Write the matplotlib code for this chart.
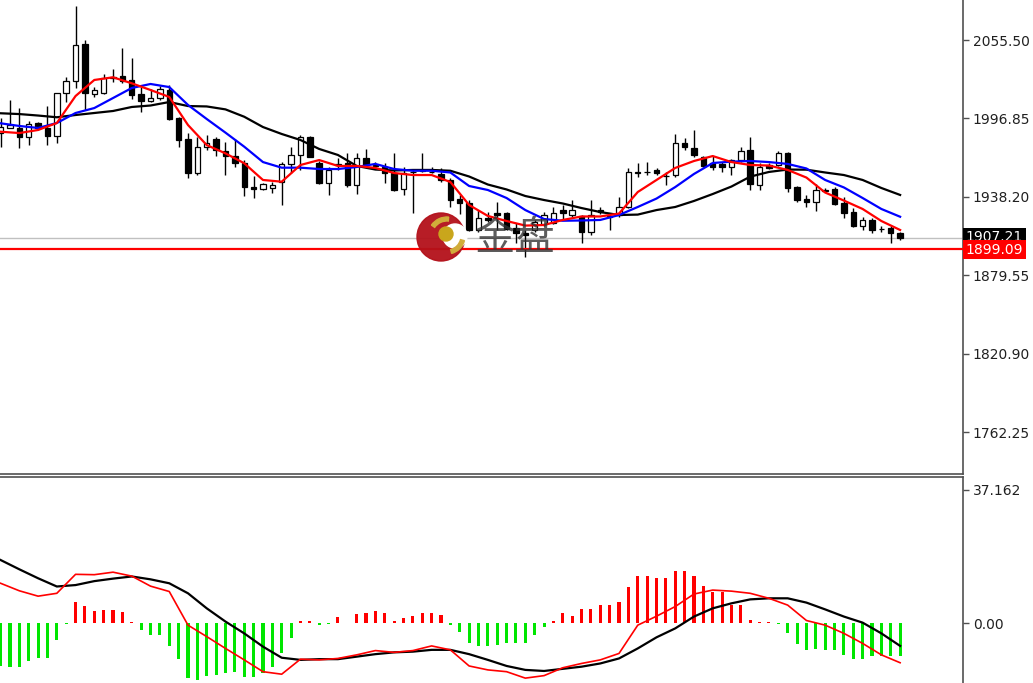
import matplotlib
matplotlib.use("Agg")
import matplotlib.pyplot as plt
import matplotlib.transforms as mtransforms
from matplotlib.patches import Circle, Wedge
import numpy as np

# ---- candles (daily OHLC) ----
opens = [1985.9, 1989.9, 1989.7, 1983.2, 1993.2, 1989.4, 1983.7, 2015.6, 2024.8, 2052.3,
         2015.1, 2015.6, 2027.1, 2028.6, 2025.6, 2014.9, 2009.9, 2011.9, 2018.1, 1996.9,
         1981.2, 1955.8, 1975.1, 1981.2, 1972.8, 1968.7, 1963.7, 1945.8, 1943.8, 1944.6,
         1949.3, 1962.8, 1969.5, 1983.2, 1963.3, 1948.8, 1962.0, 1963.3, 1947.0, 1967.0,
         1962.0, 1960.7, 1955.8, 1943.8, 1956.8, 1957.5, 1956.8, 1955.3, 1950.8, 1936.3,
         1933.8, 1913.4, 1922.4, 1925.9, 1925.9, 1914.6, 1910.9, 1913.4, 1917.9, 1918.4,
         1928.3, 1924.6, 1923.9, 1912.1, 1928.3, 1923.5, 1924.6, 1930.8, 1957.0, 1957.1,
         1958.3, 1953.8, 1954.5, 1978.7, 1974.5, 1968.2, 1963.5, 1962.5, 1960.7, 1965.7,
         1973.2, 1947.0, 1962.0, 1962.0, 1971.2, 1945.3, 1936.3, 1934.5, 1942.8, 1943.8,
         1933.3, 1927.1, 1916.4, 1920.9, 1913.9, 1914.6, 1910.9]
highs = [1997.2, 2010.6, 2004.6, 1995.1, 1994.4, 2006.1, 2016.1, 2027.6, 2080.9, 2055.5,
         2020.1, 2030.1, 2033.8, 2049.3, 2041.8, 2020.1, 2018.6, 2021.1, 2021.8, 1998.1,
         1986.2, 1983.2, 1984.4, 1982.7, 1979.2, 1981.5, 1965.7, 1953.8, 1948.8, 1949.5,
         1964.5, 1975.7, 1984.4, 1983.9, 1965.0, 1960.7, 1967.2, 1970.7, 1971.2, 1973.7,
         1964.2, 1963.3, 1971.2, 1960.7, 1958.3, 1970.7, 1960.7, 1959.5, 1952.1, 1939.6,
         1935.8, 1928.3, 1926.8, 1934.5, 1927.1, 1918.4, 1913.4, 1920.9, 1926.8, 1930.8,
         1932.1, 1935.8, 1924.6, 1935.8, 1930.6, 1925.9, 1938.3, 1959.5, 1963.7, 1964.5,
         1959.5, 1957.0, 1985.2, 1981.9, 1988.2, 1968.7, 1968.7, 1964.5, 1966.3, 1975.7,
         1983.2, 1963.3, 1963.3, 1972.7, 1971.9, 1946.3, 1939.6, 1947.8, 1944.6, 1945.8,
         1938.3, 1929.6, 1922.9, 1922.1, 1916.4, 1916.4, 1912.1]
lows = [1975.5, 1989.7, 1974.7, 1977.0, 1988.2, 1977.0, 1978.7, 2009.3, 2019.4, 2003.1,
        2013.1, 2015.1, 2024.1, 2023.1, 2011.1, 2001.9, 2009.3, 2010.6, 1995.7, 1975.7,
        1952.0, 1954.5, 1973.2, 1968.7, 1954.5, 1960.7, 1938.8, 1937.3, 1943.3, 1940.8,
        1932.1, 1955.8, 1958.3, 1967.8, 1947.8, 1939.6, 1958.3, 1945.8, 1940.3, 1960.7,
        1959.8, 1948.8, 1942.8, 1939.6, 1925.9, 1956.8, 1955.8, 1949.5, 1930.4, 1925.4,
        1912.9, 1912.1, 1919.4, 1913.4, 1913.4, 1903.4, 1893.4, 1911.9, 1916.4, 1917.9,
        1920.9, 1923.3, 1903.4, 1909.6, 1925.4, 1913.4, 1923.3, 1929.6, 1953.3, 1954.5,
        1954.5, 1947.0, 1953.3, 1973.2, 1968.2, 1960.7, 1958.3, 1957.0, 1954.5, 1964.5,
        1943.3, 1943.3, 1958.8, 1961.3, 1942.0, 1934.6, 1930.4, 1927.8, 1942.0, 1932.1,
        1922.1, 1915.4, 1913.4, 1911.4, 1912.1, 1903.4, 1905.9]
closes = [1990.4, 1991.9, 1983.0, 1992.7, 1989.4, 1983.7, 2015.6, 2024.8, 2051.8, 2015.6,
          2018.1, 2026.9, 2027.8, 2024.8, 2014.4, 2009.9, 2012.3, 2018.6, 1996.2, 1980.7,
          1956.2, 1975.7, 1978.2, 1973.2, 1968.7, 1963.5, 1945.8, 1943.8, 1947.8, 1947.0,
          1962.8, 1969.5, 1983.2, 1968.2, 1948.3, 1958.3, 1962.8, 1947.0, 1967.0, 1962.0,
          1961.3, 1955.8, 1943.3, 1955.8, 1956.4, 1957.9, 1956.6, 1950.8, 1935.8, 1933.8,
          1913.4, 1922.1, 1920.9, 1924.6, 1913.9, 1910.9, 1909.6, 1919.4, 1924.6, 1926.3,
          1926.3, 1928.3, 1912.1, 1924.6, 1927.1, 1923.3, 1930.8, 1957.0, 1955.8, 1957.0,
          1955.8, 1953.5, 1978.2, 1975.2, 1969.5, 1961.3, 1960.5, 1960.7, 1965.7, 1972.5,
          1947.8, 1960.7, 1959.5, 1971.2, 1944.6, 1935.8, 1934.5, 1943.3, 1943.3, 1932.8,
          1926.3, 1916.4, 1920.9, 1913.4, 1913.8, 1910.9, 1907.21]

# ---- moving averages, read every second bar ----
ma_idx = list(range(0, 97, 2))
ma_red = [1986.9, 1985.9, 1988.2, 1993.4, 2013.6, 2025.6, 2027.6, 2023.1, 2018.1, 2012.9,
          1991.9, 1976.9, 1970.7, 1963.3, 1950.8, 1949.5, 1962.0, 1965.7, 1961.3, 1961.3,
          1959.8, 1956.0, 1954.5, 1954.5, 1949.3, 1932.1, 1923.9, 1920.1, 1916.7, 1917.1,
          1920.9, 1923.5, 1923.5, 1925.7, 1941.8, 1950.8, 1959.8, 1965.0, 1968.7, 1964.2,
          1962.0, 1961.6, 1958.3, 1952.6, 1941.4, 1935.4, 1929.1, 1920.1, 1913.4]
ma_blue = [1993.2, 1991.2, 1989.7, 1993.4, 2000.9, 2004.6, 2012.1, 2019.6, 2022.6, 2020.3,
           2006.9, 1996.4, 1986.2, 1975.7, 1964.2, 1960.0, 1960.0, 1959.0, 1959.0, 1960.5,
           1962.8, 1959.0, 1957.7, 1957.7, 1956.4, 1946.3, 1943.3, 1937.3, 1928.3, 1921.6,
           1920.3, 1920.5, 1920.9, 1924.6, 1930.6, 1936.9, 1945.5, 1955.3, 1963.5, 1964.5,
           1965.0, 1964.2, 1962.8, 1959.4, 1950.8, 1945.2, 1937.3, 1929.1, 1923.3]
ma_black = [2000.7, 2000.1, 1999.0, 1997.7, 1999.4, 2000.9, 2002.4, 2005.4, 2006.5, 2009.1,
            2006.1, 2005.8, 2003.6, 1998.1, 1990.4, 1985.2, 1980.7, 1974.0, 1969.5, 1961.3,
            1958.6, 1957.9, 1958.3, 1958.3, 1957.7, 1953.4, 1947.4, 1943.7, 1938.8, 1935.8,
            1933.2, 1929.8, 1926.8, 1924.6, 1924.9, 1928.3, 1930.6, 1935.1, 1940.3, 1945.9,
            1953.3, 1956.8, 1958.6, 1958.5, 1956.4, 1954.5, 1950.8, 1944.8, 1939.6]

# ---- MACD panel ----
macd_hist = [-12.0, -12.4, -12.3, -10.6, -9.7, -9.7, -4.8, -0.3, 5.96, 4.75,
             3.44, 3.6, 3.6, 2.98, 0.28, -1.96, -3.35, -3.35, -6.43, -10.1,
             -15.5, -15.9, -14.8, -14.5, -14.0, -13.6, -15.0, -15.0, -13.9, -12.2,
             -8.5, -4.3, 0.5, 0.56, -0.56, -0.2, 1.77, -0.1, 2.42, 2.89,
             3.35, 2.89, 0.65, 1.49, 1.96, 2.7, 2.89, 2.24, -0.56, -2.42,
             -5.68, -6.43, -6.43, -6.15, -5.5, -5.5, -5.5, -3.3, -1.0, 0.65,
             2.9, 2.0, 3.8, 3.8, 5.0, 5.0, 6.0, 10.1, 13.1, 13.1,
             12.5, 12.5, 14.5, 14.5, 13.1, 10.3, 8.8, 8.8, 5.0, 5.0,
             0.8, 0.4, 0.4, -0.2, -2.8, -5.9, -7.6, -7.2, -7.6, -7.6,
             -8.9, -10.1, -10.1, -9.3, -9.1, -9.1, -9.1]
dif_line = [11.1, 9.0, 7.5, 8.3, 13.6, 13.5, 14.2, 13.1, 10.3, 8.8,
            -0.6, -3.8, -7.1, -10.3, -13.6, -14.3, -10.1, -10.3, -9.9, -8.9,
            -7.7, -8.2, -7.7, -6.4, -7.5, -12.0, -13.1, -13.6, -15.4, -14.7,
            -12.5, -11.3, -10.3, -8.5, -0.6, 1.9, 4.6, 8.1, 9.2, 8.9,
            8.3, 6.9, 5.0, 0.7, -0.6, -2.9, -5.7, -8.9, -11.1]
dea_line = [17.6, 15.0, 12.5, 10.2, 10.6, 11.7, 12.4, 13.0, 12.2, 11.1,
            8.3, 4.1, 0.4, -2.9, -6.6, -9.7, -10.3, -10.1, -10.1, -9.4,
            -8.7, -8.2, -8.0, -7.5, -7.5, -8.7, -10.3, -12.0, -13.1, -13.4,
            -12.8, -12.2, -11.3, -9.9, -7.1, -4.0, -1.5, 1.8, 4.1, 5.5,
            6.6, 6.9, 6.9, 5.7, 3.8, 1.8, 0.1, -2.9, -6.4]

price_ticks = [2055.50, 1996.85, 1938.20, 1879.55, 1820.90, 1762.25]
macd_ticks = [37.162, 0.0]
last_price = 1907.21
level_price = 1899.09

W, H = 1033, 683
fig = plt.figure(figsize=(W / 100, H / 100), dpi=100)
fig.patch.set_facecolor("white")

ax = fig.add_axes([0, 1 - 474 / H, 963 / W, 474 / H])
ax2 = fig.add_axes([0, 0, 963 / W, 206 / H])

x = np.arange(len(opens))
o = np.array(opens); c = np.array(closes)
up = c >= o

# candles
ax.vlines(x, lows, highs, color="black", lw=1, zorder=2)
ax.bar(x[up], (c - o)[up], bottom=o[up], width=0.58, color="white",
       edgecolor="black", linewidth=0.9, zorder=3)
ax.bar(x[~up], (o - c)[~up], bottom=c[~up], width=0.58, color="black",
       edgecolor="black", linewidth=0.9, zorder=3)

ax.plot(ma_idx, ma_black, color="black", lw=1.6, zorder=4)
ax.plot(ma_idx, ma_blue, color="#0000ff", lw=1.6, zorder=4)
ax.plot(ma_idx, ma_red, color="#ff0000", lw=1.6, zorder=4)

ax.axhline(last_price, color="#c0c0c0", lw=1, zorder=1)
ax.axhline(level_price, color="#ff0000", lw=1.6, zorder=5)

ax.set_xlim(-0.064, 102.71)
ax.set_ylim(1730.87, 2085.42)

# MACD
hist = np.array(macd_hist)
ax2.bar(x, hist, width=0.33, color=np.where(hist >= 0, "#ff0000", "#00e600"), zorder=2)
ax2.plot(ma_idx, dea_line, color="black", lw=1.6, zorder=3)
ax2.plot(ma_idx, dif_line, color="#ff0000", lw=1.2, zorder=4)
ax2.set_xlim(-0.064, 102.71)
ax2.set_ylim(-16.76, 40.79)

for a in (ax, ax2):
    a.set_facecolor("white")
    for s in ("left", "top"):
        a.spines[s].set_visible(False)
    a.spines["right"].set_color("#505050")
    a.spines["bottom"].set_color("#505050")
    a.spines["right"].set_linewidth(1.2)
    a.spines["bottom"].set_linewidth(1.2)
    a.set_xticks([])
    a.yaxis.tick_right()
    a.tick_params(axis="y", direction="out", length=4, width=1, color="#505050",
                  labelsize=10, pad=3, labelcolor="#202020")
ax2.spines["top"].set_visible(True)
ax2.spines["top"].set_color("#505050")
ax2.spines["top"].set_linewidth(1.2)
ax2.spines["bottom"].set_visible(False)

ax.set_yticks(price_ticks)
ax.set_yticklabels([f"{v:.2f}" for v in price_ticks])
ax2.set_yticks(macd_ticks)
ax2.set_yticklabels(["37.162", "0.00"])

# price labels on axis (the red one sits on top of the black one, as on the terminal)
tr = mtransforms.blended_transform_factory(ax.transAxes, ax.transData)
ax.text(1.003, last_price + 0.6, f"{last_price:.2f}", transform=tr, color="white",
        fontsize=10, va="center", ha="left", zorder=10, clip_on=False,
        bbox=dict(boxstyle="square,pad=0.2", fc="black", ec="none"))
ax.text(1.003, level_price - 0.4, f"{level_price:.2f}", transform=tr, color="white",
        fontsize=10, va="center", ha="left", zorder=11, clip_on=False,
        bbox=dict(boxstyle="square,pad=0.2", fc="#ff0000", ec="none"))

# watermark
wm = fig.add_axes([0, 0, 1, 1], facecolor="none")
wm.set_xlim(0, W)
wm.set_ylim(H, 0)
wm.axis("off")
wm.add_patch(Circle((441, 237), 24, color="#b3111a", alpha=0.95))
wm.add_patch(Circle((455, 236), 12, color="white"))
wm.add_patch(Circle((446, 234), 7, color="#c9a61c"))
wm.add_patch(Wedge((447, 236), 19, 215, 275, width=4, color="#d1ac3a"))
wm.add_patch(Wedge((447, 236), 18, 15, 75, width=4, color="#d1ac3a"))
wm.text(475, 238, "金盘", fontsize=29, color="#333333", alpha=0.8, va="center",
        ha="left", family=["Noto Sans CJK SC", "DejaVu Sans"])

fig.savefig("out.png", dpi=100)
